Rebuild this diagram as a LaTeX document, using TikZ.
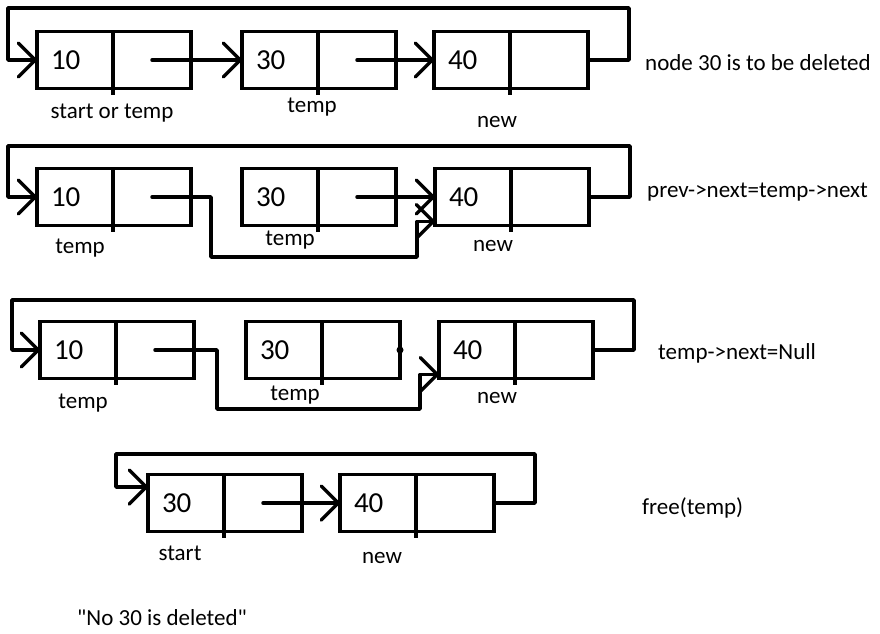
\documentclass[tikz,border=0pt]{standalone}
\usepackage{fontspec}
\setmainfont{Carlito}[Ligatures=TeXOff]
\usetikzlibrary{arrows.meta,positioning,calc}

\begin{document}
\begin{tikzpicture}[
  x=1pt, y=-1pt,
  node distance=0pt,
  cell/.style={draw, line width=3.5pt, minimum height=57pt, outer sep=0pt, inner sep=0pt},
  datacell/.style={cell, text width=48pt, inner xsep=14pt, align=left, font=\fontsize{29}{32}\selectfont},
  ptrcell/.style={cell, minimum width=78pt},
  arr/.style={-{Straight Barb[length=17pt, width=34pt, line width=3.5pt, round]}, line width=3.5pt, line cap=round, line join=round},
  lbl/.style={font=\fontsize{23}{26}\selectfont, inner sep=0pt},
  note/.style={lbl, anchor=west},
]
  \useasboundingbox (0,0) rectangle (880,633);

  % row 1: before deleting
  \node[datacell] (d10a) at (75,60) {10};
  \node[ptrcell, right=of d10a] (p10a) {};
  \node[datacell] (d30a) at (280,60) {30};
  \node[ptrcell, right=of d30a] (p30a) {};
  \node[datacell] (d40a) at (472,60) {40};
  \node[ptrcell, right=of d40a] (p40a) {};
  \coordinate (top1) at (8,8);

  \draw[arr] (p10a.center) -- (d30a.west);
  \draw[arr] (p30a.center) -- (d40a.west);
  \draw[arr] (p40a.east) -- ++(41,0) |- (top1) |- (d10a.west);

  \node[lbl] (l10a) at (112,113) {start or temp};
  \node[lbl] (l30a) at (312,107) {temp};
  \node[lbl] (l40a) at (497,122) {new};
  \node[note] (n1) at (645,63) {node 30 is to be deleted};

  % row 2: prev->next
  \node[datacell] (d10b) at (75,197) {10};
  \node[ptrcell, right=of d10b] (p10b) {};
  \node[datacell] (d30b) at (280,197) {30};
  \node[ptrcell, right=of d30b] (p30b) {};
  \node[datacell] (d40b) at (473,197) {40};
  \node[ptrcell, right=of d40b] (p40b) {};
  \coordinate (top2) at (8,146);
  \coordinate (in40b) at ($(d40b.south west)+(0,-4)$);

  \draw[arr] (p30b.center) -- (d40b.west);
  \draw[arr] (p10b.center) -- ++(59,0) -- ++(0,60) -| ($(in40b)+(-18,0)$) -- (in40b);
  \draw[arr] (p40b.east) -- ++(41,0) |- (top2) |- (d10b.west);

  \node[lbl] (l10b) at (80,248) {temp};
  \node[lbl] (l30b) at (290,240) {temp};
  \node[lbl] (l40b) at (493,246) {new};
  \node[note] (n2) at (647,192) {prev->next=temp->next};

  % row 3: temp->next
  \node[datacell] (d10c) at (78,350) {10};
  \node[ptrcell, right=of d10c] (p10c) {};
  \node[datacell] (d30c) at (284,350) {30};
  \node[ptrcell, right=of d30c] (p30c) {};
  \node[datacell] (d40c) at (477,350) {40};
  \node[ptrcell, right=of d40c] (p40c) {};
  \coordinate (top3) at (12,300);
  \coordinate (in40c) at ($(d40c.south west)+(0,-4)$);

  \fill (p30c.east) circle (3.5pt);
  \draw[arr] (p10c.center) -- ++(62,0) -- ++(0,59) -| ($(in40c)+(-19,0)$) -- (in40c);
  \draw[arr] (p40c.east) -- ++(41,0) |- (top3) |- (d10c.west);

  \node[lbl] (l10c) at (83,403) {temp};
  \node[lbl] (l30c) at (295,395) {temp};
  \node[lbl] (l40c) at (497,398) {new};
  \node[note] (n3) at (658,353) {temp->next=Null};

  % row 4: after free
  \node[datacell] (d30d) at (186,503) {30};
  \node[ptrcell, right=of d30d] (p30d) {};
  \node[datacell] (d40d) at (378,503) {40};
  \node[ptrcell, right=of d40d] (p40d) {};
  \coordinate (top4) at (116,454);

  \draw[arr] (p30d.center) -- (d40d.west);
  \draw[arr] (p40d.east) -- ++(41,0) |- (top4) |- ($(d30d.west)+(0,-16)$);

  \node[lbl] (l30d) at (180,553) {start};
  \node[lbl] (l40d) at (382,558) {new};
  \node[note] (n4) at (642,508) {free(temp)};

  % ticks under the dividers
  \foreach \p in {p10a,p30a,p40a,p10b,p30b,p40b,p10c,p30c,p40c,p30d,p40d}
    \draw[line width=3.5pt] (\p.south west) -- ++(0,6);

  \node[note] (res) at (77,618) {"No 30 is deleted"};
\end{tikzpicture}
\end{document}
